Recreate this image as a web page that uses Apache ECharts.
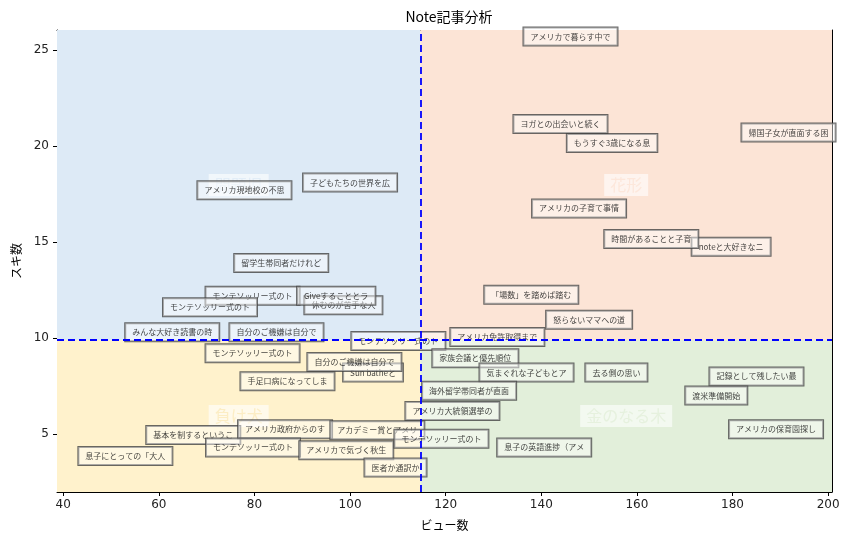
<!DOCTYPE html>
<html>
<head>
<meta charset="utf-8">
<script src="https://cdn.jsdelivr.net/npm/echarts@6/dist/echarts.min.js"></script>
<style>
html, body { margin: 0; padding: 0; background: #fff; }
#main { width: 852px; height: 544px; }
</style>
</head>
<body>
<div id="main"></div>
<script>
// 記事タイトル（先頭10文字）
var titles = [
	'アメリカ現地校の不思', '子どもたちの世界を広', '留学生帯同者だけれど', 'モンテソッリー式のト',
	'休むのが苦手な人', 'Giveすることとラ', 'モンテソッリー式のト', 'みんな大好き読書の時',
	'自分のご機嫌は自分で', 'モンテソッリー式のト', 'モンテソッリー式のト', 'Sun batheと',
	'自分のご機嫌は自分で', '手足口病になってしま', '基本を制するというこ', 'アメリカ政府からのす',
	'アカデミー賞とアメリ', 'モンテソッリー式のト', 'アメリカで気づく秋生', '息子にとっての「大人',
	'医者か通訳か', 'アメリカ免許取得まで', '家族会議と優先順位', '気まぐれな子どもとア',
	'去る側の思い', '海外留学帯同者が直面', 'アメリカ大統領選挙の', 'モンテソッリー式のト',
	'息子の英語進捗（アメ', '記録として残したい最', '渡米準備開始', 'アメリカの保育園探し',
	'アメリカで暮らす中で', 'ヨガとの出会いと続く', 'もうすぐ3歳になる息', '帰国子女が直面する困',
	'アメリカの子育て事情', 'noteと大好きなニ', '時間があることと子育', '「場数」を踏めば踏む',
	'怒らないママへの道'
];
// ビュー数
var views = [
	77.9, 100.0, 85.6, 79.6,
	98.6, 97.1, 70.7, 62.8,
	84.6, 79.6, 110.1, 104.8,
	100.9, 86.9, 67.2, 86.4,
	105.7, 79.7, 99.2, 53.0,
	109.5, 130.8, 126.2, 136.9,
	155.7, 124.9, 121.4, 119.1,
	140.6, 185.0, 176.6, 189.1,
	146.1, 144.0, 154.8, 191.7,
	147.9, 179.7, 163.0, 137.9,
	150.0
];
// スキ数
var likes = [
	17.7, 18.1, 13.9, 12.2,
	11.7, 12.2, 11.6, 10.3,
	10.3, 9.2, 9.85, 8.2,
	8.75, 7.75, 4.95, 5.25,
	5.2, 4.3, 4.15, 3.85,
	3.25, 10.05, 8.95, 8.2,
	8.2, 7.25, 6.2, 4.75,
	4.3, 8.0, 7.0, 5.25,
	25.7, 21.15, 20.15, 20.7,
	16.75, 14.75, 15.15, 12.25,
	10.95
];
// 平均線
var meanViews = 114.7;
var meanLikes = 9.9;
// 軸の範囲
var xMin = 38.7, xMax = 200.8;
var yMin = 1.98, yMax = 26.04;
// 象限
var quadNames = ['問題児', '花形', '負け犬', '金のなる木'];
var quadColors = ['#ddeaf6', '#fce4d6', '#fff2cc', '#e2efda'];

var jp = '"Noto Sans CJK JP", sans-serif';
var num = '"DejaVu Sans", sans-serif';

var points = [];
for (var i = 0; i < titles.length; i++) {
	points.push([views[i], likes[i], titles[i]]);
}

var qx = [(xMin + meanViews) / 2, (meanViews + xMax) / 2];
var qy = [(meanLikes + yMax) / 2, (yMin + meanLikes) / 2];
var quadPoints = [
	{ value: [qx[0], qy[0]], name: quadNames[0], label: { color: quadColors[0] } },
	{ value: [qx[1], qy[0]], name: quadNames[1], label: { color: quadColors[1] } },
	{ value: [qx[0], qy[1]], name: quadNames[2], label: { color: '#fbeaba' } },
	{ value: [qx[1], qy[1]], name: quadNames[3], label: { color: quadColors[3] } }
];

var myChart = echarts.init(document.getElementById('main'));

myChart.setOption({
	animation: false,
	title: {
		text: 'Note記事分析',
		left: 444,
		top: 5,
		textAlign: 'center',
		textStyle: { fontFamily: jp, fontSize: 14, fontWeight: 'normal', color: '#000' }
	},
	grid: { left: 57, right: 20, top: 30, bottom: 52 },
	xAxis: [{
		type: 'value',
		min: xMin,
		max: xMax,
		splitNumber: 8,
		name: 'ビュー数',
		nameLocation: 'middle',
		nameGap: 27,
		nameTextStyle: { fontFamily: jp, fontSize: 12, color: '#000' },
		axisLine: { show: true, lineStyle: { color: '#000', width: 1 } },
		axisTick: { show: true, length: 4, lineStyle: { color: '#000' } },
		axisLabel: { fontFamily: num, fontSize: 12, color: '#222', margin: 7, showMinLabel: false, showMaxLabel: false },
		splitLine: { show: true, lineStyle: { color: '#b0b0b0', width: 1 } }
	}, {
		type: 'value',
		position: 'top',
		min: xMin,
		max: xMax,
		axisLine: { show: true, onZero: false, lineStyle: { color: '#000', width: 1 } },
		axisTick: { show: false },
		axisLabel: { show: false },
		splitLine: { show: false }
	}],
	yAxis: [{
		type: 'value',
		min: yMin,
		max: yMax,
		splitNumber: 5,
		name: 'スキ数',
		nameLocation: 'middle',
		nameGap: 33,
		nameTextStyle: { fontFamily: jp, fontSize: 12, color: '#000' },
		axisLine: { show: true, lineStyle: { color: '#000', width: 1 } },
		axisTick: { show: true, length: 4, lineStyle: { color: '#000' } },
		axisLabel: { fontFamily: num, fontSize: 12, color: '#222', margin: 8, showMinLabel: false, showMaxLabel: false },
		splitLine: { show: true, lineStyle: { color: '#b0b0b0', width: 1 } }
	}, {
		type: 'value',
		position: 'right',
		min: yMin,
		max: yMax,
		axisLine: { show: true, onZero: false, lineStyle: { color: '#000', width: 1 } },
		axisTick: { show: false },
		axisLabel: { show: false },
		splitLine: { show: false }
	}],
	series: [{
		// 象限の背景
		type: 'scatter',
		z: -1,
		silent: true,
		data: [],
		markArea: {
			silent: true,
			data: [
				[{ coord: [xMin, meanLikes], itemStyle: { color: quadColors[0], opacity: 1 } }, { coord: [meanViews, yMax] }],
				[{ coord: [meanViews, meanLikes], itemStyle: { color: quadColors[1], opacity: 1 } }, { coord: [xMax, yMax] }],
				[{ coord: [xMin, yMin], itemStyle: { color: quadColors[2], opacity: 1 } }, { coord: [meanViews, meanLikes] }],
				[{ coord: [meanViews, yMin], itemStyle: { color: quadColors[3], opacity: 1 } }, { coord: [xMax, meanLikes] }]
			]
		}
	}, {
		// 象限ラベル
		type: 'scatter',
		z: 2,
		silent: true,
		symbolSize: 0,
		data: quadPoints,
		label: {
			show: true,
			position: 'inside',
			formatter: function(p) { return p.name; },
			fontFamily: jp,
			fontSize: 16,
			backgroundColor: 'rgba(255,255,255,0.75)',
			padding: [3, 6]
		}
	}, {
		// 平均線
		type: 'scatter',
		z: 3,
		silent: true,
		data: [],
		markLine: {
			silent: true,
			symbol: 'none',
			label: { show: false },
			lineStyle: { color: '#0000ff', type: [7, 4], width: 1.8 },
			data: [{ xAxis: meanViews }, { yAxis: meanLikes }]
		}
	}, {
		// 記事
		type: 'scatter',
		z: 4,
		symbolSize: 1,
		itemStyle: { color: 'rgba(0,0,0,0)' },
		data: points,
		label: {
			show: true,
			position: 'inside',
			formatter: function(p) { return p.value[2]; },
			fontFamily: jp,
			fontSize: 8,
			color: '#111',
			backgroundColor: 'rgba(255,255,255,0.55)',
			borderColor: '#444',
			borderWidth: 1,
			padding: [5, 7]
		}
	}]
});
</script>
</body>
</html>
